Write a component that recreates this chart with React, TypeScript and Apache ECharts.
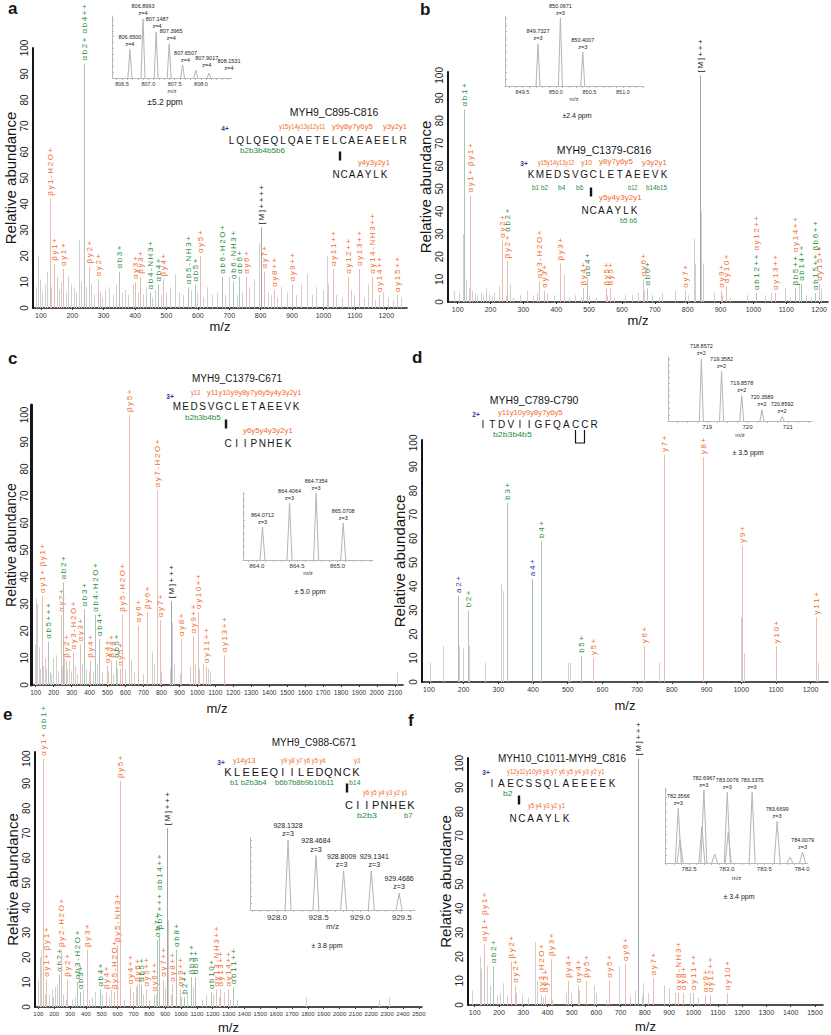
import React, { useEffect, useRef } from "react";
import * as echarts from "echarts";

type Ion = [number, number, string];
type Pk = [number, number];
type Iso = [number, number, string];

// ---------------- DATA ----------------
const yTicks = [0, 10, 20, 30, 40, 50, 60, 70, 80, 90, 100];
const aTicks = [100, 200, 300, 400, 500, 600, 700, 800, 900, 1000, 1100, 1200];
const bTicks = [100, 200, 300, 400, 500, 600, 700, 800, 900, 1000, 1100, 1200];
const cTicks = [100, 200, 300, 400, 500, 600, 700, 800, 900, 1000, 1100, 1200, 1300, 1400, 1500, 1600, 1700, 1800, 1900, 2000, 2100];
const dTicks = [100, 200, 300, 400, 500, 600, 700, 800, 900, 1000, 1100, 1200];
const eTicks = [100, 200, 300, 400, 500, 600, 700, 800, 900, 1000, 1100, 1200, 1300, 1400, 1500, 1600, 1700, 1800, 1900, 2000, 2100, 2200, 2300, 2400, 2500];
const fTicks = [100, 200, 300, 400, 500, 600, 700, 800, 900, 1000, 1100, 1200, 1300, 1400, 1500];

const aIons: Ion[] = [
  [127.6, 42, "βy1-H2O+"], [142, 17, "βy1+"], [170, 15, "αy1+"], [236, 94, "αb2+ αb4++"],
  [252, 16, "βy2+"], [281, 11, "αy2+"], [349, 14, "αb3+"], [400, 10, "αy3+"], [416, 12, "βy3+"],
  [448, 6, "αb4-NH3+"], [474, 9, "αb4+"], [490, 11, "βy4+"], [570, 8, "αb5-NH3+"], [591, 9, "αb5+"],
  [607, 20, "αy5+"], [676, 12, "αb6-H2O+"], [713, 10, "αb6-NH3+"], [732, 12, "αb6+"], [753, 12, "αy6+"],
  [800, 31, "[M]++++"], [810, 14, "αy7+"], [842, 7, "αy8++"], [900, 9, "αy9++"], [1029, 15, "αy11++"],
  [1079, 12, "αy12++"], [1114, 15, "αy13++"], [1156, 12, "αy14-NH3++"], [1177, 5, "αy14++"], [1233, 5, "αy15++"],
];
const aNoise: Pk[] = [
  [84, 8], [90, 20], [97, 11], [104, 6], [112, 9], [120, 14], [133, 8], [150, 12], [157, 7], [165, 10], [180, 6],
  [188, 12], [197, 9], [205, 8], [213, 6], [221, 26], [229, 10], [244, 8], [260, 9], [268, 5], [287, 6], [296, 4],
  [305, 7], [318, 8], [330, 5], [340, 9], [358, 6], [368, 7], [378, 5], [392, 9], [408, 6], [425, 5], [436, 8],
  [455, 4], [462, 7], [482, 5], [498, 6], [512, 8], [528, 13], [540, 6], [552, 5], [578, 7], [598, 6], [616, 4],
  [628, 8], [645, 5], [660, 6], [688, 5], [700, 12], [724, 5], [742, 6], [762, 8], [778, 11], [795, 25], [822, 6],
  [832, 5], [852, 4], [866, 8], [884, 6], [912, 5], [928, 9], [946, 13], [962, 5], [975, 8], [998, 7], [1010, 20],
  [1016, 9], [1040, 5], [1060, 4], [1088, 7], [1098, 5], [1128, 4], [1142, 9], [1165, 3], [1190, 6], [1205, 4],
  [1222, 3], [1248, 4],
];
const aIso: Iso[] = [
  [806.65, 48, "806.6500"], [806.8993, 100, "806.8993"], [807.1487, 78, "807.1487"], [807.3965, 58, "807.3965"],
  [807.6507, 22, "807.6507"], [807.9017, 13, "807.9017"], [808.1531, 8, "808.1531"],
];
const aIsoTicks = [806.5, 807.0, 807.5, 808.0];

const bIons: Ion[] = [
  [120, 85, "αb1+"], [138, 47, "αy1+ βy1+"], [236, 27, "αy2+"], [251, 18, "βy2+ αb2+"], [348, 9, "αy3-H2O+"],
  [364, 5, "αy3+"], [412, 17, "βy3+"], [481, 6, "βy4+"], [493, 10, "αb4+"], [552, 6, "βy5+"], [564, 6, "αy5+"],
  [663, 10, "αy6+"], [676, 6, "αb6+"], [792, 5, "αy7+"], [836, 100, "[M]+++"], [902, 5, "αy9+"], [917, 7, "αy10+"],
  [1009, 4, "αb12++ αy12++"], [1066, 4, "αy13++"], [1127, 6, "βb5++ αy14++"], [1145, 8, "αb14++"],
  [1186, 4, "αb15++ βb6++"], [1200, 8, "αy15++"],
];
const bNoise: Pk[] = [
  [90, 5], [104, 4], [115, 30], [120, 7], [126, 10], [133, 6], [145, 5], [153, 4], [160, 3], [170, 4], [178, 3],
  [186, 6], [195, 3], [204, 2], [212, 4], [226, 7], [246, 3], [258, 8], [268, 2], [290, 3], [310, 5], [328, 3],
  [340, 4], [372, 4], [392, 3], [424, 12], [440, 2], [458, 3], [475, 2], [500, 3], [520, 2], [555, 3], [575, 2],
  [608, 3], [630, 3], [650, 4], [668, 5], [690, 3], [712, 2], [722, 4], [760, 5], [800, 3], [818, 28], [822, 17],
  [842, 40], [846, 17], [880, 4], [905, 3], [930, 2], [980, 3], [1035, 3], [1055, 4], [1095, 6], [1112, 2],
  [1140, 8], [1160, 3], [1175, 2], [1205, 6],
];
const bIso: Iso[] = [[849.7327, 62, "849.7327"], [850.0671, 100, "850.0671"], [850.4007, 50, "850.4007"]];
const bIsoTicks = [849.5, 850.0, 850.5, 851.0];

const cIons: Ion[] = [
  [138, 33, "αy1+ βy1+"], [170, 16, "αb5+++"], [239, 26, "αy2+"], [254, 38, "αb2+"], [267, 9, "βy2+"],
  [307, 12, "αy3-H2O+"], [349, 15, "αy3+"], [367, 28, "αb3+"], [404, 9, "βy4+"], [429, 26, "αb4-H2O+"],
  [453, 17, "αb4+"], [495, 7, "αy4+"], [517, 9, "βy4+"], [545, 9, "αb5+"], [572, 6, "αy5+"], [581, 26, "βy5-H2O+"],
  [618, 100, "βy5+"], [667, 22, "αy6+"], [722, 27, "βy6+"], [773, 72, "αy7-H2O+"], [792, 24, "αy7+"],
  [856, 31, "[M]+++"], [911, 17, "αy8+"], [975, 18, "αy9++"], [1002, 27, "αy10++"], [1051, 7, "αy11++"],
  [1148, 11, "αy13++"],
];
const cNoise: Pk[] = [
  [95, 15], [103, 32], [110, 30], [118, 14], [126, 6], [143, 7], [150, 10], [160, 6], [178, 5], [188, 4], [197, 10],
  [212, 11], [222, 5], [245, 7], [260, 10], [275, 6], [285, 9], [296, 5], [318, 7], [330, 4], [358, 8], [380, 6],
  [395, 5], [420, 5], [440, 8], [468, 5], [505, 5], [532, 4], [555, 6], [600, 6], [628, 9], [648, 5], [700, 4],
  [745, 12], [760, 8], [800, 5], [848, 6], [860, 23], [870, 8], [905, 4], [960, 7], [985, 8], [1008, 6], [1030, 8],
  [1060, 6], [1072, 5], [2112, 5],
];
const cIso: Iso[] = [[864.0712, 49, "864.0712"], [864.4064, 85, "864.4064"], [864.7354, 100, "864.7354"], [865.0708, 55, "865.0708"]];
const cIsoTicks = [864.0, 864.5, 865.0];

const dIons: Ion[] = [
  [184, 36, "a2+"], [213, 30, "b2+"], [326, 75, "b3+"], [398, 43, "a4+"], [424, 59, "b4+"], [538, 11, "b5+"],
  [573, 10, "y5+"], [720, 15, "y6+"], [778, 95, "y7+"], [890, 94, "y8+"], [1002, 57, "y9+"], [1101, 15, "y10+"],
  [1216, 27, "y11+"],
];
const dNoise: Pk[] = [
  [103, 8], [140, 15], [186, 15], [197, 14], [215, 15], [262, 8], [307, 41], [312, 38], [326, 9], [398, 9], [424, 10],
  [500, 8], [507, 8], [762, 8], [778, 20], [890, 33], [1000, 27], [1008, 12], [1216, 15], [1221, 8],
];
const dIso: Iso[] = [
  [718.8572, 100, "718.8572"], [719.3582, 80, "719.3582"], [719.8578, 41, "719.8578"], [720.3589, 18, "720.3589"],
  [720.8592, 7, "720.8592"],
];
const dIsoTicks = [719, 720, 721];

const eIons: Ion[] = [
  [127, 100, "αy1+ αb1+"], [146, 11, "αy1+ βy1+"], [232, 13, "αb2+"], [243, 23, "βy2-H2O+"], [279, 11, "βy2+"],
  [342, 10, "αb3-H2O+"], [363, 6, "αb3+"], [405, 23, "βy3+"], [489, 7, "αb4+"], [524, 6, "βy4+"],
  [575, 6, "βy5-H2O+"], [594, 25, "βy5-NH3+"], [615, 91, "βy5+"], [677, 8, "αy4++"], [724, 9, "βy6+"],
  [745, 9, "αb5+"], [776, 7, "αy5++"], [829, 5, "αy6++"], [846, 27, "αb7+"], [863, 30, "βb7+++ αb14++"],
  [884, 11, "αy7++"], [913, 72, "[M]+++"], [945, 9, "αy8++"], [968, 23, "αb8+"], [993, 7, "αy9++"],
  [1020, 4, "b2++"], [1060, 12, "βb3++"], [1087, 12, "αb9+"], [1186, 6, "αb10+"], [1220, 7, "αy13-NH3++"],
  [1249, 7, "αy13++"], [1297, 7, "αy14++"], [1329, 8, "αb11++"],
];
const eNoise: Pk[] = [
  [100, 11], [112, 20], [118, 23], [140, 5], [150, 7], [165, 5], [185, 7], [195, 4], [205, 8], [215, 9], [255, 5],
  [275, 3], [310, 3], [330, 4], [380, 7], [420, 3], [440, 4], [455, 6], [500, 5], [545, 4], [560, 7], [640, 3],
  [700, 6], [718, 8], [738, 12], [758, 5], [800, 3], [840, 5], [898, 8], [918, 35], [935, 5], [1000, 4], [1040, 6],
  [1075, 8], [1130, 3], [1160, 5], [1200, 5], [1240, 4], [1270, 6], [1310, 3], [1350, 3], [1790, 4], [2250, 3],
  [2310, 4],
];
const eIso: Iso[] = [
  [928.1328, 100, "928.1328"], [928.4684, 78, "928.4684"], [928.8009, 56, "928.8009"], [929.1341, 56, "929.1341"],
  [929.4686, 24, "929.4686"],
];
const eIsoTicks = [928.0, 928.5, 929.0, 929.5];

const fIons: Ion[] = [
  [137, 25, "αy1+ βy1+"], [175, 16, "αb2+"], [251, 18, "βy2+"], [265, 8, "αy2+"], [372, 4, "αy3-H2O+"],
  [391, 4, "αy3+"], [413, 19, "βy3+"], [484, 10, "βy4+"], [523, 8, "αy4+"], [556, 10, "βy5+"], [653, 10, "αy5+"],
  [720, 17, "αy6+"], [770, 102, "[M]+++"], [834, 11, "αy7+"], [937, 5, "αy8-NH3+"], [958, 5, "αy8+"],
  [999, 5, "αy11++"], [1047, 4, "αy9+"], [1068, 4, "αy12++"], [1136, 5, "αy10+"],
];
const fNoise: Pk[] = [
  [88, 6], [122, 20], [126, 15], [150, 16], [163, 8], [190, 4], [203, 5], [218, 9], [232, 4], [248, 12], [268, 5],
  [293, 4], [318, 3], [350, 26], [355, 10], [380, 3], [420, 2], [474, 5], [498, 5], [530, 6], [590, 8], [600, 5],
  [640, 2], [693, 16], [740, 4], [760, 6], [772, 36], [790, 4], [794, 9], [815, 5], [880, 8], [900, 7], [925, 5],
  [985, 5], [1020, 3],
];
const fIso: Iso[] = [
  [782.3566, 75, "782.3566"], [782.38, 32, ""], [782.67, 50, ""], [782.6967, 100, "782.6967"], [782.84, 12, ""],
  [783.0076, 97, "783.0076"], [783.02, 42, ""], [783.3375, 97, "783.3375"], [783.6699, 57, "783.6699"],
  [783.84, 8, ""], [784.0079, 15, "784.0079"],
];
const fIsoTicks = [782.5, 783.0, 783.5, 784.0];

// ---------------- STYLE / LAYOUT ----------------
const FONT = "'Liberation Sans', Arial, Helvetica, sans-serif";
const ORANGE = "#f26b2d";
const GREEN = "#1f8c42";
const BLUE = "#2e3aa3";
const INK = "#161616";
const COL: Record<string, string> = { o: ORANGE, g: GREEN, u: BLUE, k: INK };
const STICK: Record<string, string> = { o: "#e8bcae", g: "#aac6b8", u: "#afb3cc", k: "#a4a4a4" };
const NOISE = "#cfcfcf";

function kindOf(t: string): string {
  if (t.startsWith("[M]")) return "k";
  if (/^a\d/.test(t)) return "u";
  if (/^[αβ]?y/.test(t)) return "o";
  return "g";
}
const spaced = (s: string) => s.split("").join("\u2009");
function steps(a: number, b: number, s: number) {
  const out: number[] = [];
  for (let v = a; v <= b + 1e-9; v += s) out.push(Math.round(v * 1000) / 1000);
  return out;
}

const mains = [
  { g: { left: 33, top: 48, width: 374, height: 260 }, x: [75, 1266], yMax: 100, ticks: aTicks, ions: aIons, noise: aNoise, yGap: 11, xGap: 12, yW: 2, tf: 7, nf: 15, lm: 4 },
  { g: { left: 448, top: 72, width: 380, height: 230 }, x: [70.5, 1227], yMax: 101.5, ticks: bTicks, ions: bIons, noise: bNoise, yGap: 13, xGap: 11, yW: 2, tf: 7, nf: 15, lm: 4 },
  { g: { left: 31, top: 405, width: 372, height: 280 }, x: [74, 2145], yMax: 103.7, ticks: cTicks, ions: cIons, noise: cNoise, yGap: 12, xGap: 17, yW: 3, tf: 6.5, nf: 14, lm: 2 },
  { g: { left: 422, top: 440, width: 406, height: 242 }, x: [80, 1250], yMax: 101.2, ticks: dTicks, ions: dIons, noise: dNoise, yGap: 13, xGap: 17, yW: 2, tf: 7, nf: 15, lm: 4 },
  { g: { left: 35, top: 752, width: 387, height: 255 }, x: [79, 2520], yMax: 102.7, ticks: eTicks, ions: eIons, noise: eNoise, yGap: 12, xGap: 14, yW: 2, tf: 6, nf: 15, lm: 4 },
  { g: { left: 468, top: 758, width: 355, height: 247 }, x: [72.4, 1533], yMax: 102.2, ticks: fTicks, ions: fIons, noise: fNoise, yGap: 11, xGap: 15, yW: 2, tf: 7, nf: 15, lm: 4 },
];

const insets = [
  { g: { left: 112, top: 16, width: 120, height: 62 }, x: [806.31, 808.59], yMax: 105, iso: aIso, ticks: aIsoTicks, minor: 0.1, dec: 1, z: "z=4", fs: 5.5, tfs: 5.5, hw: 2, ng: 8, shift: [0, 0, 1, 2, 3, 11, 20], ppm: ["±5.2 ppm", 165, 102, 8.5] },
  { g: { left: 505, top: 16, width: 138, height: 70 }, x: [849.24, 851.3], yMax: 103, iso: bIso, ticks: bIsoTicks, minor: 0.1, dec: 1, z: "z=3", fs: 5.5, tfs: 5.5, hw: 2, ng: 10, shift: [], ppm: ["±2.4 ppm", 577, 115, 7] },
  { g: { left: 243, top: 493, width: 130, height: 67 }, x: [863.83, 865.44], yMax: 100, iso: cIso, ticks: cIsoTicks, minor: 0.1, dec: 1, z: "z=3", fs: 5.5, tfs: 6, hw: 2.5, ng: 10, shift: [], ppm: ["± 5.0 ppm", 310, 591, 7] },
  { g: { left: 668, top: 357, width: 144, height: 64 }, x: [718.03, 721.6], yMax: 103, iso: dIso, ticks: dIsoTicks, minor: 0.25, dec: 0, z: "z=2", fs: 5.5, tfs: 6, hw: 2, ng: 11, shift: [], ppm: ["± 3.5 ppm", 748, 452, 7] },
  { g: { left: 250, top: 838, width: 165, height: 72 }, x: [927.675, 929.66], yMax: 103, iso: eIso, ticks: eIsoTicks, minor: 0.1, dec: 1, z: "z=3", fs: 7, tfs: 8, hw: 3, ng: 12, shift: [0, 0, -2, 3, 0], ppm: ["± 3.8 ppm", 327, 945, 7] },
  { g: { left: 665, top: 788, width: 143, height: 75 }, x: [782.18, 784.08], yMax: 103, iso: fIso, ticks: fIsoTicks, minor: 0.1, dec: 1, z: "z=3", fs: 5.5, tfs: 6, hw: 3, ng: 12, shift: [], ppm: ["± 3.4 ppm", 739, 896, 7] },
];

function stickSeries(idx: number, pts: Pk[], color: string) {
  return {
    type: "custom", xAxisIndex: idx, yAxisIndex: idx, silent: true, clip: false, z: 2,
    data: pts.map((p) => [p[0], p[1]]),
    renderItem: (_p: any, api: any) => {
      const t = api.coord([api.value(0), api.value(1)]);
      const b = api.coord([api.value(0), 0]);
      const x = Math.round(t[0]) + 0.5;
      return { type: "line", shape: { x1: x, y1: b[1], x2: x, y2: t[1] }, style: { stroke: color, lineWidth: 1 } };
    },
  };
}

function ionSeries(idx: number, ions: Ion[]) {
  const fs = 8;
  const rich: any = {};
  Object.keys(COL).forEach((k) => (rich[k] = { fill: COL[k], fontSize: fs, fontFamily: FONT }));
  return {
    type: "custom", xAxisIndex: idx, yAxisIndex: idx, silent: true, clip: false, z: 3,
    data: ions.map((p) => [p[0], p[1]]),
    renderItem: (params: any, api: any) => {
      const ion = ions[params.dataIndex];
      const t = api.coord([ion[0], ion[1]]);
      const b = api.coord([ion[0], 0]);
      const x = Math.round(t[0]) + 0.5;
      const toks = ion[2].split(" ");
      const text = toks.map((tk) => `{${kindOf(tk)}|${spaced(tk)}}`).join("\u2002");
      return {
        type: "group",
        children: [
          { type: "line", shape: { x1: x, y1: b[1], x2: x, y2: t[1] }, style: { stroke: STICK[kindOf(toks[0])], lineWidth: 1 } },
          { type: "text", x: x, y: t[1] - 3, rotation: Math.PI / 2, style: { text, rich, fontSize: fs, fontFamily: FONT, align: "left", verticalAlign: "middle" } },
        ],
      };
    },
  };
}

function isoSeries(idx: number, iso: Iso[], z: string, fs: number, hw: number, shift: number[]) {
  return {
    type: "custom", xAxisIndex: idx, yAxisIndex: idx, silent: true, clip: false, z: 4,
    data: iso.map((p) => [p[0], p[1]]),
    renderItem: (params: any, api: any) => {
      const d = iso[params.dataIndex];
      const t = api.coord([d[0], d[1]]);
      const b = api.coord([d[0], 0]);
      const children: any[] = [
        { type: "polyline", shape: { points: [[t[0] - hw, b[1]], [t[0], t[1]], [t[0] + hw, b[1]]] }, style: { stroke: "#b5b5b5", fill: "none", lineWidth: 1 } },
      ];
      if (d[2]) {
        const dx = shift[params.dataIndex] ?? 0;
        children.push({ type: "text", x: t[0] + dx, y: t[1] - 2, style: { text: `${d[2]}\n${z}`, fontSize: fs, lineHeight: fs + 1.5, fontFamily: FONT, fill: "#222", align: "center", verticalAlign: "bottom" } });
      }
      return { type: "group", children };
    },
  };
}

function T(x: number, y: number, text: string, o: any = {}) {
  return {
    type: "text", x, y, silent: true,
    style: { text, fill: o.color ?? INK, fontSize: o.size ?? 10, fontFamily: o.font ?? FONT, fontWeight: o.bold ? "bold" : "normal", align: o.align ?? "left", verticalAlign: "middle" },
  };
}
function fit(x: number, y: number, text: string, w: number, color: string, size = 8) {
  const natural = text.length * size * 0.53;
  return { type: "text", x, y, scaleX: w / natural, silent: true, style: { text, fontSize: size, fill: color, fontFamily: FONT, align: "left", verticalAlign: "middle" } };
}
function seq(x0: number, y: number, s: string, pitch: number, size = 10) {
  return s.split("").map((c, i) => T(x0 + i * pitch, y, c, { size, align: "center" }));
}
function bond(x: number, y: number) {
  return { type: "rect", silent: true, shape: { x: x - 1.2, y: y - 4.5, width: 2.4, height: 9 }, style: { fill: INK } };
}

function graphics() {
  const els: any[] = [];
  ([["a", 8, 8], ["b", 420, 9], ["c", 8, 358], ["d", 412, 357], ["e", 3, 714], ["f", 408, 720]] as [string, number, number][]).forEach(
    ([t, x, y]) => els.push(T(x, y, t, { size: 17, bold: true }))
  );
  // titles
  els.push(T(334, 112, "MYH9_C895-C816", { size: 10.5, align: "center" }));
  els.push(T(604, 150, "MYH9_C1379-C816", { size: 10.5, align: "center" }));
  els.push(T(237, 378, "MYH9_C1379-C671", { size: 10, align: "center" }));
  els.push(T(534, 400, "MYH9_C789-C790", { size: 10.5, align: "center" }));
  els.push(T(314, 742, "MYH9_C988-C671", { size: 10, align: "center" }));
  els.push(T(562, 758, "MYH10_C1011-MYH9_C816", { size: 10, align: "center" }));
  // charges
  els.push(T(225, 128, "4+", { size: 6.5, color: BLUE, align: "center", bold: true }));
  els.push(T(524, 163, "3+", { size: 6.5, color: BLUE, align: "center", bold: true }));
  els.push(T(170, 396, "3+", { size: 6.5, color: BLUE, align: "center", bold: true }));
  els.push(T(476, 414, "2+", { size: 6.5, color: BLUE, align: "center", bold: true }));
  els.push(T(221, 762, "3+", { size: 6.5, color: BLUE, align: "center", bold: true }));
  els.push(T(486, 772, "3+", { size: 6.5, color: BLUE, align: "center", bold: true }));
  // panel a annotation
  els.push(fit(279, 126, "y15y14y13y12y11", 46, ORANGE), fit(332, 126, "y9y8y7y6y5", 41, ORANGE), fit(383, 126, "y3y2y1", 24, ORANGE));
  els.push(...seq(231.5, 140, "LQLQEQLQAETELCAEAEELR", 8.58));
  els.push(fit(240, 151, "b2b3b4b5b6", 43, GREEN), bond(340, 156), fit(358, 162, "y4y3y2y1", 32, ORANGE));
  els.push(...seq(336, 174, "NCAAYLK", 8));
  // panel b
  els.push(fit(538, 162, "y15y14y13y12", 36, ORANGE), fit(581, 162, "y10", 11, ORANGE), fit(599, 162, "y8y7y6y5", 34, ORANGE), fit(642, 162, "y3y2y1", 25, ORANGE));
  els.push(...seq(531, 174, "KMEDSVGCLETAEEVK", 8.87));
  els.push(fit(532, 187, "b1 b2", 17, GREEN), fit(558, 187, "b4", 7, GREEN), fit(576, 187, "b6", 7, GREEN), fit(628, 187, "b12", 9, GREEN), fit(646, 187, "b14b15", 20, GREEN));
  els.push(bond(591, 192), fit(599, 198, "y5y4y3y2y1", 43, ORANGE));
  els.push(...seq(585, 210, "NCAAYLK", 8.2));
  els.push(fit(620, 220, "b5 b6", 18, GREEN));
  // panel c
  els.push(fit(191, 392, "y13", 9, ORANGE), fit(207, 392, "y11y10y9y8y7y6y5y4y3y2y1", 95, ORANGE));
  els.push(...seq(177, 406, "MEDSVGCLETAEEVK", 8.5));
  els.push(fit(185, 418, "b2b3b4b5", 34, GREEN), bond(226, 424), fit(243, 430, "y6y5y4y3y2y1", 50, ORANGE));
  els.push(...seq(228, 443, "CIIPNHEK", 8.57));
  // panel d
  els.push(fit(498, 412, "y11y10y9y8y7y6y5", 65, ORANGE));
  els.push(...seq(483, 424, "ITDVIIGFQACCR", 9.25));
  els.push(fit(493, 434, "b2b3b4b5", 37, GREEN));
  els.push({ type: "polyline", silent: true, shape: { points: [[575.5, 430], [575.5, 443], [584.5, 443], [584.5, 430]] }, style: { stroke: INK, lineWidth: 1.2, fill: "none" } });
  // panel e
  els.push(fit(233, 760, "y14y13", 22, ORANGE), fit(281, 760, "y9 y8 y7 y6 y5 y4", 52, ORANGE), fit(354, 760, "y1", 7, ORANGE));
  els.push(...seq(228, 772, "KLEEEQIILEDQNCK", 9.14, 11));
  els.push(fit(230, 782, "b1 b2b3b4", 37, GREEN), fit(275, 782, "b6b7b8b9b10b11", 57, GREEN), fit(349, 782, "b14", 11, GREEN));
  els.push(bond(347, 788), fit(363, 792, "y6 y5 y4 y3 y2 y1", 52, ORANGE));
  els.push(...seq(349, 805, "CIIPNHEK", 8.86, 11));
  els.push(fit(357, 815, "b2b3", 19, GREEN), fit(404, 815, "b7", 8, GREEN));
  // panel f
  els.push(fit(507, 771, "y12y11y10y9 y8 y7 y6 y5 y4 y3 y2 y1", 110, ORANGE));
  els.push(...seq(492, 783, "IAECSSQLAEEEEK", 9.23));
  els.push(fit(503, 794, "b2", 9, GREEN), bond(519, 800), fit(528, 805, "y5 y4 y3 y2 y1", 43, ORANGE));
  els.push(...seq(513, 818, "NCAAYLK", 8.83));
  // ppm
  insets.forEach((s) => els.push(T(s.ppm[1] as number, s.ppm[2] as number, s.ppm[0] as string, { size: s.ppm[3], align: "center" })));
  return els;
}

function buildOption() {
  const grid: any[] = [];
  const xAxis: any[] = [];
  const yAxis: any[] = [];
  const series: any[] = [];
  mains.forEach((m, i) => {
    grid.push({ ...m.g, containLabel: false, outerBoundsMode: "none" });
    xAxis.push({
      gridIndex: i, type: "value", min: m.x[0], max: m.x[1],
      axisLine: { show: true, onZero: false, lineStyle: { color: INK, width: 1.6 } },
      axisTick: { show: true, length: 2, customValues: m.ticks, lineStyle: { color: "#333" } },
      axisLabel: { customValues: m.ticks, formatter: (v: number) => String(v), fontSize: m.tf, fontFamily: FONT, color: "#333", margin: 4 },
      splitLine: { show: false },
      name: "m/z", nameLocation: "middle", nameGap: m.xGap, nameTextStyle: { fontSize: 13, fontFamily: FONT, color: INK },
    });
    yAxis.push({
      gridIndex: i, type: "value", min: 0, max: m.yMax,
      axisLine: { show: true, lineStyle: { color: INK, width: m.yW } },
      axisTick: { show: false },
      axisLabel: { customValues: yTicks, formatter: (v: number) => String(v), rotate: 90, fontSize: 10, color: "#222", margin: m.lm, fontFamily: FONT },
      splitLine: { show: false },
      name: "Relative abundance", nameLocation: "middle", nameGap: m.yGap, nameTextStyle: { fontSize: m.nf, color: INK, fontFamily: FONT },
    });
    series.push(stickSeries(i, m.noise, NOISE));
    series.push(ionSeries(i, m.ions));
  });
  insets.forEach((s, k) => {
    const i = mains.length + k;
    grid.push({ ...s.g, containLabel: false, outerBoundsMode: "none" });
    const lo = Math.ceil(s.x[0] / s.minor) * s.minor;
    xAxis.push({
      gridIndex: i, type: "value", min: s.x[0], max: s.x[1],
      axisLine: { show: true, onZero: false, lineStyle: { color: "#b8b8b8", width: 1 } },
      axisTick: { show: true, length: 2, customValues: steps(lo, s.x[1], s.minor), lineStyle: { color: "#b8b8b8" } },
      axisLabel: { customValues: s.ticks, formatter: (v: number) => v.toFixed(s.dec), fontSize: s.tfs, color: "#333", margin: 3, fontFamily: FONT },
      splitLine: { show: false },
      name: "m/z", nameLocation: "middle", nameGap: s.ng, nameTextStyle: { fontSize: s.tfs, color: "#333", fontFamily: FONT },
    });
    yAxis.push({
      gridIndex: i, type: "value", min: 0, max: s.yMax,
      axisLine: { show: true, lineStyle: { color: "#b8b8b8", width: 1 } },
      axisTick: { show: true, inside: true, length: 2, customValues: steps(0, 100, 10), lineStyle: { color: "#b8b8b8" } },
      axisLabel: { show: false },
      splitLine: { show: false },
    });
    series.push(isoSeries(i, s.iso, s.z, s.fs, s.hw, s.shift));
  });
  return {
    animation: false,
    backgroundColor: "#ffffff",
    textStyle: { fontFamily: FONT },
    grid, xAxis, yAxis, series,
    graphic: { elements: graphics() },
  };
}

export default function App() {
  const ref = useRef<HTMLDivElement>(null);
  useEffect(() => {
    const chart = echarts.init(ref.current as HTMLDivElement, null, { renderer: "svg" });
    chart.setOption(buildOption() as any);
    return () => chart.dispose();
  }, []);
  return <div ref={ref} style={{ position: "absolute", left: 0, top: 0, width: 831, height: 1035, background: "#fff" }} />;
}
